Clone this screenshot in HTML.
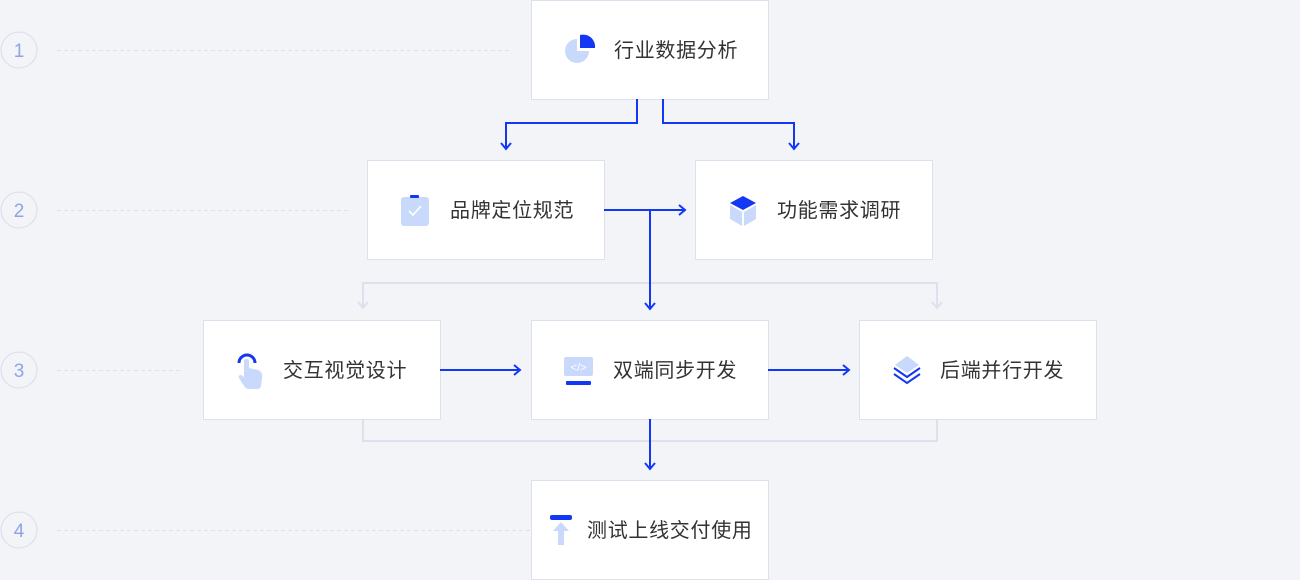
<!DOCTYPE html>
<html><head><meta charset="utf-8"><style>
body{margin:0;width:1300px;height:580px;background:#f3f4f8;overflow:hidden}
svg{display:block}
text{font-family:"Liberation Sans","Noto Sans CJK SC",sans-serif}
</style></head><body>
<svg width="1300" height="580" xmlns="http://www.w3.org/2000/svg">
<g fill="none" stroke="#dde1ee" stroke-width="1" stroke-dasharray="4 3">
<line x1="57" y1="50.5" x2="510" y2="50.5"/>
<line x1="57" y1="210.5" x2="350" y2="210.5"/>
<line x1="57" y1="370.5" x2="182" y2="370.5"/>
<line x1="57" y1="530.5" x2="531" y2="530.5"/>
</g>
<g fill="none" stroke="#dde1ee" stroke-width="1.2">
<circle cx="19" cy="50" r="18"/><circle cx="19" cy="210" r="18"/><circle cx="19" cy="370" r="18"/><circle cx="19" cy="530" r="18"/>
</g>
<g fill="#8fa3e6" font-size="19" text-anchor="middle">
<text x="19" y="57">1</text><text x="19" y="217">2</text><text x="19" y="377">3</text><text x="19" y="537">4</text>
</g>
<g fill="none" stroke="#dde1ee" stroke-width="2">
<polyline points="363,308 363,283 937,283 937,308"/>
<polyline points="358,302 363,308 368,302"/>
<polyline points="932,302 937,308 942,302"/>
<polyline points="363,419 363,441 937,441 937,419"/>
</g>
<g fill="#fff" stroke="#dde1ee" stroke-width="1">
<rect x="531.5" y="0.5" width="237" height="99"/>
<rect x="367.5" y="160.5" width="237" height="99"/>
<rect x="695.5" y="160.5" width="237" height="99"/>
<rect x="203.5" y="320.5" width="237" height="99"/>
<rect x="531.5" y="320.5" width="237" height="99"/>
<rect x="859.5" y="320.5" width="237" height="99"/>
<rect x="531.5" y="480.5" width="237" height="99"/>
</g>
<g fill="none" stroke="#1238f5" stroke-width="2">
<polyline points="637,99 637,123 506,123 506,148"/>
<polyline points="501,143 506,149 511,143"/>
<polyline points="663,99 663,123 794,123 794,148"/>
<polyline points="789,143 794,149 799,143"/>
<line x1="604" y1="210" x2="685" y2="210"/>
<polyline points="679,205 685,210 679,215"/>
<line x1="650" y1="210" x2="650" y2="308"/>
<polyline points="645,303 650,309 655,303"/>
<line x1="440" y1="370" x2="520" y2="370"/>
<polyline points="514,365 520,370 514,375"/>
<line x1="768" y1="370" x2="849" y2="370"/>
<polyline points="843,365 849,370 843,375"/>
<line x1="650" y1="419" x2="650" y2="468"/>
<polyline points="645,463 650,469 655,463"/>
</g>
<path d="M577 39 A12 12 0 1 0 589 51 L577 51 Z" fill="#c9d9fb"/>
<path d="M580 35 A12 12 0 0 1 595 48 L580 48 Z" fill="#1238f5"/>
<rect x="401" y="197" width="28" height="29" rx="3" fill="#c9d9fb"/>
<rect x="410" y="195" width="9" height="3" rx="1" fill="#1238f5"/>
<polyline points="409,211 413,215 421,206" fill="none" stroke="#fff" stroke-width="1.6"/>
<path d="M743 196 L756 203 L743 210 L730 203 Z" fill="#1238f5"/>
<path d="M730 205 L742 212 L742 226 L730 219 Z" fill="#c9d9fb"/>
<path d="M756 205 L744 212 L744 226 L756 219 Z" fill="#c9d9fb"/>
<path d="M239 363 A8 8 0 0 1 255 363" fill="none" stroke="#1238f5" stroke-width="3"/>
<path d="M244 360 q3 -2 5 0 l0 8 l9 2 q5 2 4 8 l-1 8 q-1 3 -4 3 l-8 0 q-3 0 -5 -3 l-5 -8 q-1 -3 2 -3 l3 2 z" fill="#c9d9fb"/>
<rect x="564" y="357" width="29" height="19" rx="2" fill="#c9d9fb"/>
<text x="578.5" y="371" font-size="11" fill="#fff" text-anchor="middle">&lt;/&gt;</text>
<rect x="566" y="381" width="25" height="4" rx="1" fill="#1238f5"/>
<path d="M907 356 L919 365 L907 373 L895 365 Z" fill="#c9d9fb"/>
<polyline points="894,368 907,377 920,368" fill="none" stroke="#1238f5" stroke-width="2"/>
<polyline points="894,374 907,383 920,374" fill="none" stroke="#1238f5" stroke-width="2"/>
<rect x="550" y="515" width="22" height="5" rx="2" fill="#1238f5"/>
<path d="M561 522 L569 531 L564 531 L564 545 L558 545 L558 531 L553 531 Z" fill="#c9d9fb"/>
<g fill="#333" font-size="20" letter-spacing="0.7">
<text x="614" y="57">行业数据分析</text>
<text x="450" y="217">品牌定位规范</text>
<text x="777" y="217">功能需求调研</text>
<text x="283" y="377">交互视觉设计</text>
<text x="613" y="377">双端同步开发</text>
<text x="940" y="377">后端并行开发</text>
<text x="587" y="537">测试上线交付使用</text>
</g>
</svg>
</body></html>
